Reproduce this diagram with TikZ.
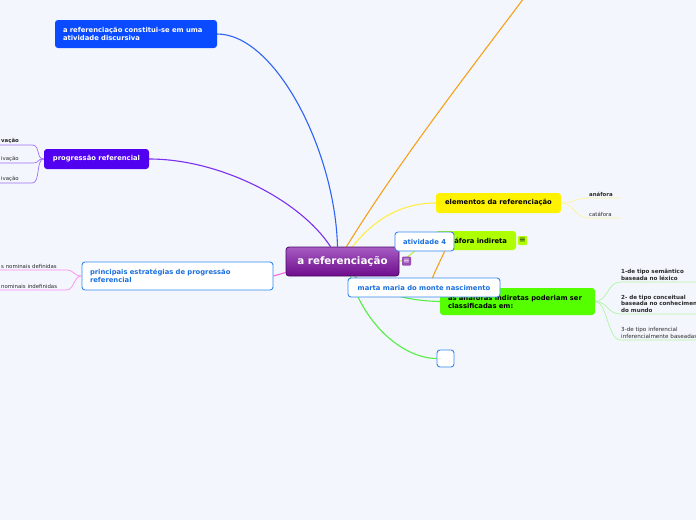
\documentclass[tikz,border=0pt]{standalone}
\usepackage{fontspec}
\setmainfont{DejaVu Sans}
\usetikzlibrary{positioning,backgrounds}

\definecolor{fundo}{HTML}{F3F6FD}
\definecolor{azulcaixa}{HTML}{0A4BFF}
\definecolor{azulramo}{HTML}{2F63F5}
\definecolor{roxocaixa}{HTML}{5200F0}
\definecolor{roxoramo}{HTML}{7B2FF0}
\definecolor{roxofolha}{HTML}{A070F5}
\definecolor{rosa}{HTML}{F266EC}
\definecolor{rosafolha}{HTML}{FF8CF2}
\definecolor{laranja}{HTML}{F7A11A}
\definecolor{amarelo}{HTML}{FFF200}
\definecolor{amareloramo}{HTML}{FFEE44}
\definecolor{amarelofolha}{HTML}{FFF3A0}
\definecolor{lima}{HTML}{AEFF00}
\definecolor{limaramo}{HTML}{B8F040}
\definecolor{verde}{HTML}{55FF00}
\definecolor{verderamo}{HTML}{55EE44}
\definecolor{verdefolha}{HTML}{B2F5A2}
\definecolor{azulborda}{HTML}{3388EE}
\definecolor{azultexto}{HTML}{1A6FE0}
\definecolor{roxoclaro}{HTML}{A65CC2}
\definecolor{roxofundo}{HTML}{6E0C8C}
\definecolor{roxoescuro}{HTML}{4A0765}
\definecolor{roxoicone}{HTML}{9B4DB8}
\definecolor{textofolha}{HTML}{2A2A2A}

\tikzset{
  caixa/.style={rounded corners=3pt, inner xsep=8pt, inner ysep=0pt,
    font=\bfseries\fontsize{6.8}{8}\selectfont},
  cheia/.style={caixa, fill=#1, draw=none},
  vazada/.style={caixa, fill=white, draw=azulborda, line width=0.9pt, text=azultexto},
  central/.style={rounded corners=3pt, minimum width=113pt, minimum height=29pt,
    draw=roxoescuro, line width=0.8pt, top color=roxoclaro, bottom color=roxofundo,
    text=white, font=\bfseries\fontsize{10.3}{12}\selectfont},
  folha/.style={anchor=south west, inner sep=1pt, text width=#1, align=left,
    text=textofolha, font=\fontsize{5.4}{6.4}\selectfont},
  ramo/.style={draw=#1, line width=1.1pt},
  ramofino/.style={draw=#1, line width=0.7pt},
  icone/.style={rounded corners=1pt, minimum size=9pt, inner sep=0pt,
    font=\fontsize{8}{8}\selectfont}
}

\begin{document}
\begin{tikzpicture}[x=1pt,y=-1pt]
\useasboundingbox (0,0) rectangle (696,520);
\begin{scope}[on background layer]
  \fill[fundo] (0,0) rectangle (696,520);
\end{scope}

\node[central] (referencia) at (342.5,261.5) {a referenciação};
\node[icone, fill=roxoicone, text=white] (notareferencia) at (406.5,261) {≡};

\node[cheia=azulcaixa, text=white, minimum width=162pt, minimum height=28pt,
  text width=146pt, align=left] (discursiva) at (136,34)
  {a referenciação constitui-se em uma\\atividade discursiva};
\node[cheia=roxocaixa, text=white, minimum width=105pt, minimum height=20pt]
  (progressao) at (96.5,159) {progressão referencial};
\node[vazada, minimum width=191pt, minimum height=28pt, text width=175pt,
  align=left] (estrategias) at (177.5,276)
  {principais estratégias de progressão\\referencial};
\node[cheia=amarelo, minimum width=125pt, minimum height=20pt]
  (elementos) at (498.5,203) {elementos da referenciação};
\node[cheia=lima, minimum width=80pt, minimum height=19pt]
  (anafora) at (476,240.5) {anáfora indireta};
\node[icone, fill=lima, text=textofolha] (notaanafora) at (522.5,240.5) {≡};
\node[cheia=verde, minimum width=155pt, minimum height=27pt, text width=139pt,
  align=left] (classificadas) at (517.5,301.5)
  {as anáforas indiretas poderiam ser\\classificadas em:};
\node[vazada, minimum size=17pt, inner sep=0pt] (vazio) at (445.5,358.5) {};
\node[vazada, minimum width=59pt, minimum height=19pt]
  (atividade) at (424.5,241.5) {atividade 4};
\node[vazada, minimum width=152pt, minimum height=19pt]
  (marta) at (424,287.5) {marta maria do monte nascimento};

\coordinate (foratopo) at (530,-10);
\coordinate (laranjafim) at (428,290);

\begin{scope}[on background layer]
  \draw[ramo=azulramo] ([xshift=-5pt]referencia.north)
    .. controls (335,150) and (275,34) .. (discursiva.east);
  \draw[ramo=roxoramo] ([xshift=-12pt]referencia.north)
    .. controls (300,200) and (220,159) .. (progressao.east);
  \draw[ramo=laranja] ([xshift=4pt]referencia.north)
    .. controls (400,160) and (470,70) .. (foratopo);
  \draw[ramo=amareloramo] ([xshift=10pt]referencia.north)
    .. controls (380,212) and (410,203) .. (elementos.west);
  \draw[ramo=limaramo] (referencia.east)
    .. controls (415,255) and (420,240) .. (anafora.west);
  \draw[ramo=rosa] ([yshift=-11pt]referencia.west) -- (estrategias.east);
  \draw[ramo=verderamo] ([xshift=12pt]referencia.south)
    .. controls (385,298) and (420,301) .. (classificadas.west);
  \draw[ramo=verderamo] ([xshift=8pt]referencia.south)
    .. controls (362,320) and (400,358) .. (vazio.west);
  \draw[ramo=laranja] ([xshift=20pt]atividade.south)
    .. controls (440,262) and (434,272) .. (laranjafim);
\end{scope}

\foreach \i/\y/\txt in {1/145/\bfseries vação, 2/163/ivação, 3/183/ivação}{
  \node[folha=30pt] (progressao\i) at (0,\y) {\txt};
  \draw[ramofino=roxofolha] (progressao.west) .. controls +(-8,0) and +(8,0)
    .. (progressao\i.south east) -- (progressao\i.south west);
}
\foreach \i/\y/\txt in {1/270/s nominais definidas, 2/290/nominais indefinidas}{
  \node[folha=64pt] (estrategias\i) at (0,\y) {\txt};
  \draw[ramofino=rosafolha] (estrategias.west) .. controls +(-8,0) and +(8,0)
    .. (estrategias\i.south east) -- (estrategias\i.south west);
}
\foreach \i/\y/\txt in {1/198/\bfseries anáfora, 2/218/catáfora}{
  \node[folha=30pt] (elementos\i) at (588,\y) {\txt};
  \draw[ramofino=amarelofolha] (elementos.east) .. controls +(12,0) and +(-12,0)
    .. (elementos\i.south west) -- (elementos\i.south east);
}
\foreach \i/\y/\txt in {1/282/\bfseries 1-de tipo semântico\\baseada no léxico,
    2/314/\bfseries 2- de tipo conceitual\\baseada no conhecimento\\do mundo,
    3/340/3-de tipo inferencial\\inferencialmente baseadas}{
  \node[folha=100pt, font=\fontsize{5.6}{6.8}\selectfont] (classificadas\i) at (620,\y) {\txt};
  \draw[ramofino=verdefolha] (classificadas.east) .. controls +(12,0) and +(-12,0)
    .. (classificadas\i.south west) -- (classificadas\i.south east);
}
\end{tikzpicture}
\end{document}
